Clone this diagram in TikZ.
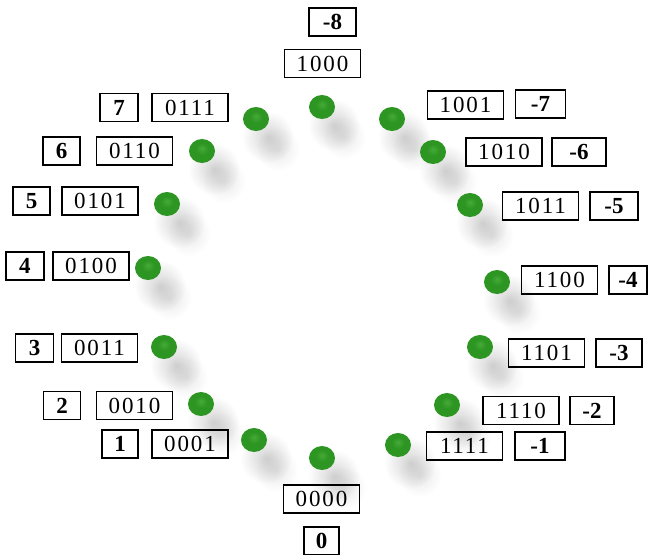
\documentclass[tikz,border=0pt]{standalone}
\usepackage{fontspec}
\setmainfont{Liberation Serif}
\usetikzlibrary{fadings,shapes.geometric}
\tikzfading[name=softspot, inner color=transparent!0, outer color=transparent!100]
\definecolor{dotlight}{RGB}{70,170,55}
\definecolor{dotmid}{RGB}{45,150,35}
\definecolor{dotdark}{RGB}{30,118,24}
\pgfdeclareradialshading{greenball}{\pgfpoint{0bp}{6bp}}{%
  color(0bp)=(dotlight); color(12bp)=(dotmid); color(30bp)=(dotmid);
  color(42bp)=(dotdark); color(50bp)=(dotdark)}
\begin{document}
\begin{tikzpicture}[x=1pt,y=-1pt,
  lbl/.style={draw, line width=1.3pt, minimum height=28pt, inner sep=0pt},
  bin/.style={lbl, minimum width=76pt,
    font=\fontsize{23}{23}\selectfont\addfontfeature{LetterSpace=8}},
  num/.style={lbl, font=\fontsize{23}{23}\selectfont\bfseries},
  gdot/.style={ellipse, minimum width=26pt, minimum height=24pt, inner sep=0pt,
    shading=greenball},
]
\useasboundingbox (0,0) rectangle (653,554);

% soft shadows under the dots
\foreach \x/\y in {322/107,392/119,433/152,470/205,497/282,480/347,447/405,398/445,
                   322/458,254/440,201/404,164/347,148/268,167/204,202/151,256/119}{
  \fill[black, opacity=.17, path fading=softspot] (\x+12,\y+18) circle (26);
  \fill[black, opacity=.09, path fading=softspot] (\x+22,\y+30) circle (22);
}

% the sixteen dots, 0000 .. 1111 counter-clockwise from the bottom
\node[gdot] (d0000) at (322,458) {};
\node[gdot] (d0001) at (254,440) {};
\node[gdot] (d0010) at (201,404) {};
\node[gdot] (d0011) at (164,347) {};
\node[gdot] (d0100) at (148,268) {};
\node[gdot] (d0101) at (167,204) {};
\node[gdot] (d0110) at (202,151) {};
\node[gdot] (d0111) at (256,119) {};
\node[gdot] (d1000) at (322,107) {};
\node[gdot] (d1001) at (392,119) {};
\node[gdot] (d1010) at (433,152) {};
\node[gdot] (d1011) at (470,205) {};
\node[gdot] (d1100) at (497,282) {};
\node[gdot] (d1101) at (480,347) {};
\node[gdot] (d1110) at (447,405) {};
\node[gdot] (d1111) at (398,445) {};

% top and bottom labels
\node[num, minimum width=47pt] (nm8) at (332.5,22) {-8};
\node[bin] (b1000) at (322.5,63.5) {1000};
\node[bin] (b0000) at (321.5,499) {0000};
\node[num, minimum width=35pt] (n0) at (321.5,541) {0};

% left side: value, then bit pattern
\node[num, minimum width=38pt] (n7) at (119,107.5) {7};
\node[bin] (b0111) at (190,107.5) {0111};
\node[num, minimum width=37pt] (n6) at (61.5,151) {6};
\node[bin] (b0110) at (134.5,151) {0110};
\node[num, minimum width=37pt] (n5) at (31.5,201) {5};
\node[bin] (b0101) at (100,201) {0101};
\node[num, minimum width=38pt] (n4) at (25,266) {4};
\node[bin] (b0100) at (91,266) {0100};
\node[num, minimum width=38pt] (n3) at (34.5,348) {3};
\node[bin] (b0011) at (99.5,348) {0011};
\node[num, minimum width=37pt] (n2) at (62,405.5) {2};
\node[bin] (b0010) at (134.5,405.5) {0010};
\node[num, minimum width=36pt] (n1) at (120,444) {1};
\node[bin] (b0001) at (190,444) {0001};

% right side: bit pattern, then value
\node[bin] (b1001) at (465.5,105) {1001};
\node[num, minimum width=50pt] (nm7) at (540.5,104) {-7};
\node[bin] (b1010) at (504,152) {1010};
\node[num, minimum width=54pt] (nm6) at (579,152) {-6};
\node[bin] (b1011) at (540.5,206) {1011};
\node[num, minimum width=48pt] (nm5) at (614,206) {-5};
\node[bin] (b1100) at (559.5,280) {1100};
\node[num, minimum width=38pt] (nm4) at (628,280) {-4};
\node[bin] (b1101) at (546.5,353) {1101};
\node[num, minimum width=46pt] (nm3) at (619,353) {-3};
\node[bin] (b1110) at (521,410.5) {1110};
\node[num, minimum width=44pt] (nm2) at (592,410.5) {-2};
\node[bin] (b1111) at (464.5,446) {1111};
\node[num, minimum width=50pt] (nm1) at (540,446) {-1};
\end{tikzpicture}
\end{document}
